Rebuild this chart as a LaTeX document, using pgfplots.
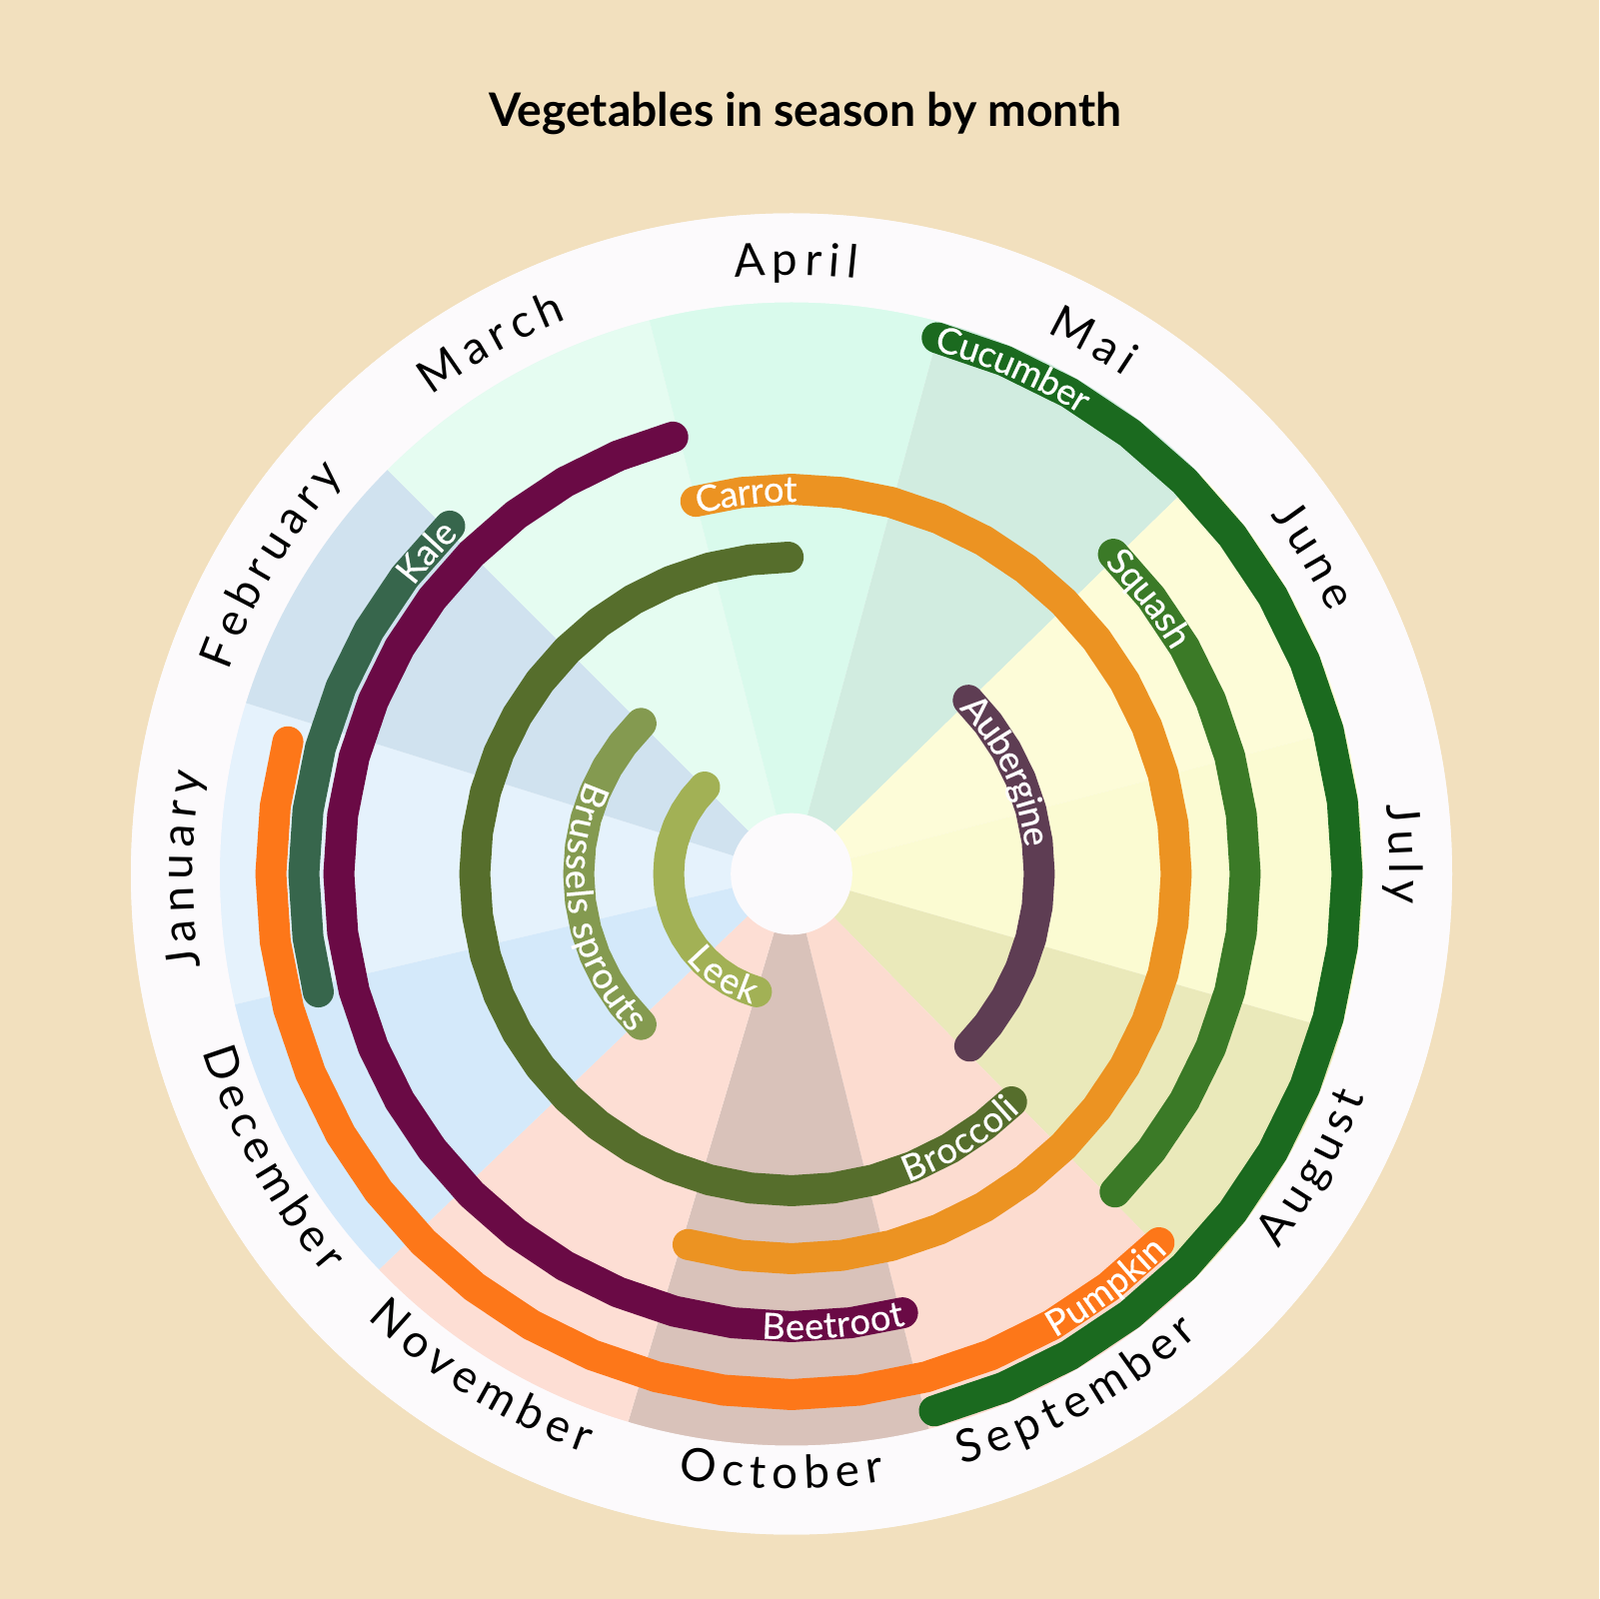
\documentclass[border=0pt]{standalone}
\usepackage{fontspec}
\setmainfont{Lato}
\newfontfamily\vegfam[FakeBold=0.5]{Lato}
\usepackage{pgfplots}
\pgfplotsset{compat=1.18}
\usetikzlibrary{decorations.text}

\definecolor{bg}{HTML}{F2E0BE}
\definecolor{ringc}{HTML}{FCFAFC}
\definecolor{mJan}{HTML}{E5F2FC}
\definecolor{mFeb}{HTML}{D0E2EF}
\definecolor{mMar}{HTML}{E5FCF1}
\definecolor{mApr}{HTML}{D9FAEC}
\definecolor{mMay}{HTML}{D1ECE0}
\definecolor{mJun}{HTML}{FDFCD8}
\definecolor{mJul}{HTML}{FBFBD2}
\definecolor{mAug}{HTML}{EAE9BA}
\definecolor{mSep}{HTML}{FCDCD0}
\definecolor{mOct}{HTML}{D9C2BA}
\definecolor{mNov}{HTML}{FDDED4}
\definecolor{mDec}{HTML}{D4E9FA}

\definecolor{cCucumber}{HTML}{1B6A1F}
\definecolor{cPumpkin}{HTML}{FD7719}
\definecolor{cKale}{HTML}{37664C}
\definecolor{cBeetroot}{HTML}{6A0A45}
\definecolor{cSquash}{HTML}{3B7A27}
\definecolor{cCarrot}{HTML}{EC9322}
\definecolor{cBroccoli}{HTML}{566E2C}
\definecolor{cAubergine}{HTML}{5E3D53}
\definecolor{cBrussels}{HTML}{849A50}
\definecolor{cLeek}{HTML}{A2B155}

\newcommand\LS{\kern1.9pt}
\newcommand\mfont{\fontsize{13}{15}\selectfont}
\newcommand\vfont{\vegfam\fontsize{10.3}{12}\selectfont}

% text labels along circular paths round the centre O
\newcommand\toplabel[2]{%
  \path[decorate, decoration={text along path, text align=center, text={|\mfont|#2}}]
    (O) ++(#1+30:59.9mm) arc[start angle=#1+30, end angle=#1-30, radius=59.9mm];}
\newcommand\botlabel[2]{%
  \path[decorate, decoration={text along path, text align=center, text={|\mfont|#2}}]
    (O) ++(#1-30:61.5mm) arc[start angle=#1-30, end angle=#1+30, radius=61.5mm];}
\newcommand\veglabel[5]{%
  \path[decorate, decoration={text along path, text align=#4, raise=-3.6pt, text={|\vfont\color{white}|#5}}]
    (O) ++(#2:#1) arc[start angle=#2, end angle=#3, radius=#1];}

\pgfplotsset{
  veg/.style={mark=none, line width=3.1mm, line cap=round, line join=round, data cs=polar},
  sector/.style={draw=none, fill=#1, mark=none, data cs=polar},
}

\begin{document}
\begin{tikzpicture}
\begin{axis}[
  x=0.1mm, y=0.1mm,
  xmin=-792, xmax=808, ymin=-725.5, ymax=874.5,
  hide axis, clip=false,
]
\fill[bg] (rel axis cs:0,0) rectangle (rel axis cs:1,1);
\fill[ringc] (axis cs:0,0) circle[radius=66.1mm];
\coordinate (O) at (axis cs:0,0);

% month sectors (start angle, end angle, radius)
\addplot[sector=mJan] coordinates {(0,0) (193.2,640) (162.6,640)} -- cycle;
\addplot[sector=mFeb] coordinates {(0,0) (162.6,640) (135.0,640)} -- cycle;
\addplot[sector=mMar] coordinates {(0,0) (135.0,640) (104.4,640)} -- cycle;
\addplot[sector=mApr] coordinates {(0,0) (104.4,640) (74.8,640)} -- cycle;
\addplot[sector=mMay] coordinates {(0,0) (74.8,640) (44.3,640)} -- cycle;
\addplot[sector=mJun] coordinates {(0,0) (44.3,640) (14.7,640)} -- cycle;
\addplot[sector=mJul] coordinates {(0,0) (14.7,640) (-16.0,640)} -- cycle;
\addplot[sector=mAug] coordinates {(0,0) (-16.0,640) (-45.5,640)} -- cycle;
\addplot[sector=mSep] coordinates {(0,0) (-45.5,640) (-76.1,640)} -- cycle;
\addplot[sector=mOct] coordinates {(0,0) (-76.1,640) (-106.6,640)} -- cycle;
\addplot[sector=mNov] coordinates {(0,0) (-106.6,640) (-136.2,640)} -- cycle;
\addplot[sector=mDec] coordinates {(0,0) (-136.2,640) (-166.8,640)} -- cycle;

\draw[ringc, line width=8.9mm] (axis cs:0,0) circle[radius=61.65mm];

% vegetables: (angle, ring radius)
\addplot[veg, draw=cCucumber] coordinates {
 (74.8,556) (67.5,556) (60,556) (52.5,556) (45,556) (37.5,556) (30,556) (22.5,556) (15,556) (7.5,556) (0,556)
 (-7.5,556) (-15,556) (-22.5,556) (-30,556) (-37.5,556) (-45,556) (-52.5,556) (-60,556) (-67.5,556) (-75.1,556)};
\addplot[veg, draw=cPumpkin] coordinates {
 (165.3,521) (172.5,521) (180,521) (187.5,521) (195,521) (202.5,521) (210,521) (217.5,521) (225,521) (232.5,521) (240,521)
 (247.5,521) (255,521) (262.5,521) (270,521) (277.5,521) (285,521) (292.5,521) (300,521) (307.5,521) (314.9,521)};
\addplot[veg, draw=cKale] coordinates {
 (194.0,488) (187.5,488) (180,488) (172.5,488) (165,488) (157.5,488) (150,488) (142.5,488) (134.5,488)};
\addplot[veg, draw=cBeetroot] coordinates {
 (105.2,453) (112.5,453) (120,453) (127.5,453) (135,453) (142.5,453) (150,453) (157.5,453) (165,453) (172.5,453) (180,453)
 (187.5,453) (195,453) (202.5,453) (210,453) (217.5,453) (225,453) (232.5,453) (240,453) (247.5,453) (255,453)
 (262.5,453) (270,453) (277.5,453) (284.2,453)};
\addplot[veg, draw=cSquash] coordinates {
 (44.8,454) (37.5,454) (30,454) (22.5,454) (15,454) (7.5,454) (0,454) (-7.5,454) (-15,454) (-22.5,454) (-30,454) (-37.5,454) (-44.5,454)};
\addplot[veg, draw=cCarrot] coordinates {
 (104.4,385) (97.5,385) (90,385) (82.5,385) (75,385) (67.5,385) (60,385) (52.5,385) (45,385) (37.5,385) (30,385)
 (22.5,385) (15,385) (7.5,385) (0,385) (-7.5,385) (-15,385) (-22.5,385) (-30,385) (-37.5,385) (-45,385)
 (-52.5,385) (-60,385) (-67.5,385) (-75,385) (-82.5,385) (-90,385) (-97.5,385) (-105.6,385)};
\addplot[veg, draw=cBroccoli] coordinates {
 (90.6,317) (97.5,317) (105,317) (112.5,317) (120,317) (127.5,317) (135,317) (142.5,317) (150,317) (157.5,317) (165,317)
 (172.5,317) (180,317) (187.5,317) (195,317) (202.5,317) (210,317) (217.5,317) (225,317) (232.5,317) (240,317)
 (247.5,317) (255,317) (262.5,317) (270,317) (277.5,317) (285,317) (292.5,317) (300,317) (307.5,317) (314.0,317)};
\addplot[veg, draw=cAubergine] coordinates {
 (44.5,248) (37.5,248) (30,248) (22.5,248) (15,248) (7.5,248) (0,248) (-7.5,248) (-15,248) (-22.5,248) (-30,248) (-37.5,248) (-44.0,248)};
\addplot[veg, draw=cBrussels] coordinates {
 (135,213) (142.5,213) (150,213) (157.5,213) (165,213) (172.5,213) (180,213) (187.5,213) (195,213) (202.5,213) (210,213) (217.5,213) (225,213)};
\addplot[veg, draw=cLeek] coordinates {
 (135,123) (142.5,123) (150,123) (157.5,123) (165,123) (172.5,123) (180,123) (187.5,123) (195,123) (202.5,123) (210,123)
 (217.5,123) (225,123) (232.5,123) (240,123) (247.5,123) (253.4,123)};

\fill[ringc] (axis cs:0,0) circle[radius=6.08mm];

\node[font=\fontsize{13.15}{15}\selectfont\bfseries, anchor=center] at (axis cs:14,761) {Vegetables in season by month};
\end{axis}

% vegetable names
\veglabel{55.6mm}{74.8}{-75.1}{left}{Cucumber}
\veglabel{52.1mm}{165.3}{314.9}{right}{Pumpkin}
\veglabel{48.8mm}{194.0}{134.5}{right}{Kale}
\veglabel{45.3mm}{105.2}{284.2}{right}{Beetroot}
\veglabel{45.4mm}{44.8}{-44.5}{left}{Squash}
\veglabel{38.5mm}{104.4}{-105.6}{left}{Carrot}
\veglabel{31.7mm}{90.6}{314.0}{right}{Broccoli}
\veglabel{24.8mm}{44.5}{-44.0}{left}{Aubergine}
\veglabel{21.3mm}{135}{225}{right}{Brussels sprouts}
\veglabel{12.3mm}{135}{253.4}{right}{Leek}

% month labels
\toplabel{179.6}{{J\LS}{a\LS}{n\LS}{u\LS}{a\LS}{r\LS}y}
\toplabel{149.3}{{F\LS}{e\LS}{b\LS}{r\LS}{u\LS}{a\LS}{r\LS}y}
\toplabel{119.5}{{M\LS}{a\LS}{r\LS}{c\LS}{h}}
\toplabel{89.6}{{A\LS}{p\LS}{r\LS}{i\LS}l}
\toplabel{60.5}{{M\LS}{a\LS}i}
\toplabel{31.4}{{J\LS}{u\LS}{n\LS}e}
\toplabel{1.9}{{J\LS}{u\LS}{l\LS}y}
\botlabel{-29.4}{{A\LS}{u\LS}{g\LS}{u\LS}{s\LS}t}
\botlabel{-61.2}{{S\LS}{e\LS}{p\LS}{t\LS}{e\LS}{m\LS}{b\LS}{e\LS}r}
\botlabel{-91.0}{{O\LS}{c\LS}{t\LS}{o\LS}{b\LS}{e\LS}r}
\botlabel{-121.6}{{N\LS}{o\LS}{v\LS}{e\LS}{m\LS}{b\LS}{e\LS}r}
\botlabel{-151.3}{{D\LS}{e\LS}{c\LS}{e\LS}{m\LS}{b\LS}{e\LS}r}
\end{tikzpicture}
\end{document}
